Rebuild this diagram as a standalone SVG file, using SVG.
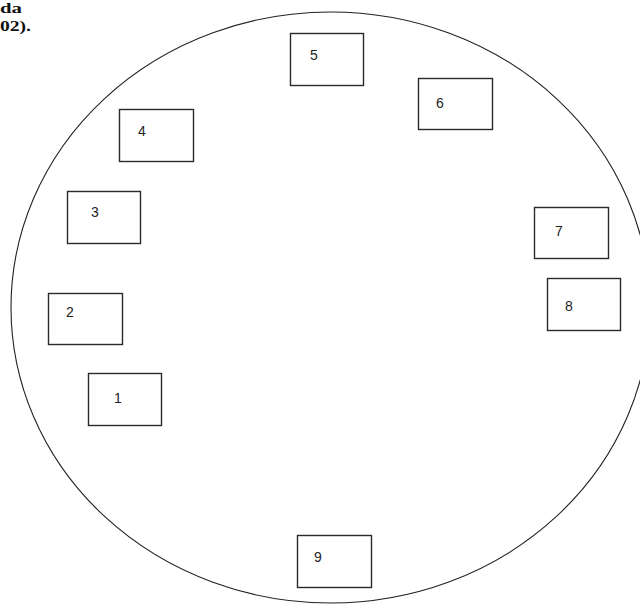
<svg xmlns="http://www.w3.org/2000/svg" width="640" height="604" viewBox="0 0 640 604">
<style>
.box{fill:#fff;stroke:#2a2a2a;stroke-width:1.4}
.lbl{font-family:"Liberation Sans",Arial,sans-serif;font-size:14px;fill:#222}
.cap{font-family:"Liberation Serif","Times New Roman",serif;font-size:15px;font-weight:bold;fill:#111}
</style>
<rect width="640" height="604" fill="#fff"/>
<g id="caption">
<text class="cap" x="0" y="13" textLength="22" lengthAdjust="spacingAndGlyphs">da</text>
<text class="cap" x="0" y="31" textLength="31" lengthAdjust="spacingAndGlyphs">02).</text>
</g>
<g id="ring">
<ellipse cx="330.5" cy="307.5" rx="319.5" ry="295.5" fill="none" stroke="#222" stroke-width="1.1"/>
</g>
<g id="node1"><rect class="box" x="88.5" y="373.5" width="73" height="52"/><text class="lbl" x="114" y="403">1</text></g>
<g id="node2"><rect class="box" x="48.5" y="293.5" width="74" height="51"/><text class="lbl" x="66" y="317">2</text></g>
<g id="node3"><rect class="box" x="67.5" y="191.5" width="73" height="52"/><text class="lbl" x="91" y="217">3</text></g>
<g id="node4"><rect class="box" x="119.5" y="109.5" width="74" height="52"/><text class="lbl" x="138" y="136">4</text></g>
<g id="node5"><rect class="box" x="290.5" y="33.5" width="73" height="52"/><text class="lbl" x="310" y="60">5</text></g>
<g id="node6"><rect class="box" x="418.5" y="78.5" width="74" height="51"/><text class="lbl" x="436" y="108">6</text></g>
<g id="node7"><rect class="box" x="534.5" y="207.5" width="74" height="51"/><text class="lbl" x="555" y="236">7</text></g>
<g id="node8"><rect class="box" x="547.5" y="278.5" width="73" height="52"/><text class="lbl" x="565" y="311">8</text></g>
<g id="node9"><rect class="box" x="297.5" y="535.5" width="74" height="52"/><text class="lbl" x="314" y="562">9</text></g>
<g id="connectors"/>
</svg>
